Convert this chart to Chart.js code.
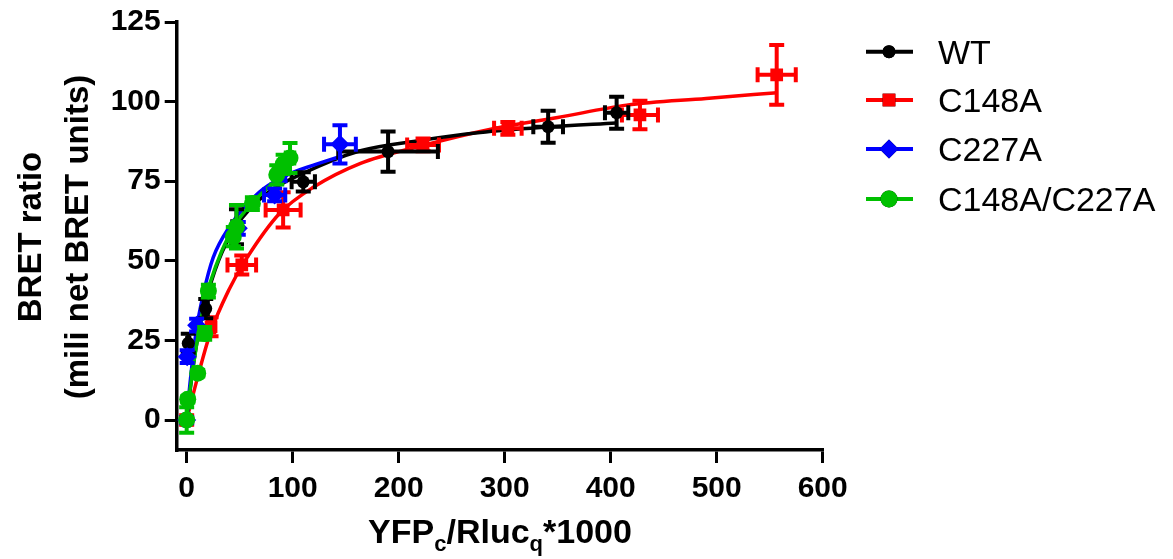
<!DOCTYPE html>
<html>
<head>
<meta charset="utf-8">
<script src="https://cdn.jsdelivr.net/npm/chart.js@4.4.1/dist/chart.umd.min.js"></script>
<style>
  html, body { margin: 0; padding: 0; background: #fff; }
  #wrap { width: 1173px; height: 559px; position: relative; }
</style>
</head>
<body>
<div id="wrap"><canvas id="c" width="1173" height="559"></canvas></div>
<script>
// ---------- data ----------
const xTicks = [0, 100, 200, 300, 400, 500, 600];
const yTicks = [0, 25, 50, 75, 100, 125];
const seriesNames = ['WT', 'C148A', 'C227A', 'C148A/C227A'];
const xTitleParts = ['YFP', 'c', '/Rluc', 'q', '*1000'];
const yTitleLines = ['BRET ratio', '(mili net BRET units)'];

// WT
const wtX    = [1.5, 18, 47, 110, 190, 341, 405.6];
const wtY    = [24.1, 35, 60.7, 74.8, 84.3, 92.1, 96.5];
const wtXErr = [1, 2, 4, 11, 47, 14, 11];
const wtYErr = [3, 3, 5.5, 3, 6.3, 5, 5];
// C148A
const c148X    = [0, 23, 52, 91, 223, 303, 427.6, 556.6];
const c148Y    = [0, 29.3, 48.7, 66, 86.4, 91.6, 95.8, 108.4];
const c148XErr = [0, 3, 13.5, 16.5, 15, 13, 17, 18];
const c148YErr = [1.5, 3, 3, 5.5, 2, 2, 4.5, 9.4];
// C227A
const c227X    = [0, 0.5, 9.4, 48.7, 83, 88, 144.6];
const c227Y    = [0, 19.9, 29.8, 60.2, 70.7, 77, 86.6];
const c227XErr = [2, 1, 2, 3, 10, 5, 15];
const c227YErr = [1, 2, 2, 2, 2, 2, 6];
// C148A/C227A
const dblX    = [0, 1, 10.4, 17, 20.5, 44, 47, 62, 85, 91, 97.5];
const dblY    = [0, 6.5, 14.7, 27.2, 40.5, 57.6, 60.7, 68, 77, 80.3, 82.3];
const dblXErr = [0, 0, 0, 1, 1, 2, 2, 2, 3, 3, 4];
const dblYErr = [4, 1, 1, 2, 2, 3, 6.8, 2, 3, 3, 4.7];

// fitted curves
const wtFitX  = [0, 5, 10, 17, 30, 47, 75, 110, 163, 220, 277, 340, 405];
const wtFitY  = [0, 14, 25, 36, 50, 61, 71, 77.5, 84.5, 87.8, 90.3, 92, 93.3];
const c148FitX = [0, 10, 22, 40, 57, 88, 119, 164, 220, 289, 350, 415, 490, 557];
const c148FitY = [0, 13, 27, 41, 51, 65, 73, 80.6, 86, 91.5, 95, 98.9, 101, 102.8];
const c227FitX = [0, 3, 9, 16, 25, 41, 55, 72, 95, 119, 147];
const c227FitY = [0, 11, 28, 40, 51, 61, 67, 72.5, 77, 80, 83];
const dblFitX  = [0, 3, 10, 17, 22, 33, 45, 60, 75, 88, 97];
const dblFitY  = [0, 9, 25, 37, 43, 53, 61, 67.5, 72.5, 76, 78.5];

// ---------- styling ----------
const FONT = '"Liberation Sans", Arial, Helvetica, sans-serif';
const colors = ['#000000', '#ff0000', '#0000ff', '#00c000'];
const pointStyles = ['circle', 'rect', 'rectRot', 'circle'];
const pointRadii = [6.5, 9, 9.5, 8.5];

function pts(xs, ys) { return xs.map((x, i) => ({ x: x, y: ys[i] })); }

const pointSets = [
  { x: wtX, y: wtY, xe: wtXErr, ye: wtYErr },
  { x: c148X, y: c148Y, xe: c148XErr, ye: c148YErr },
  { x: c227X, y: c227Y, xe: c227XErr, ye: c227YErr },
  { x: dblX, y: dblY, xe: dblXErr, ye: dblYErr }
];
const fitSets = [
  { x: wtFitX, y: wtFitY },
  { x: c148FitX, y: c148FitY },
  { x: c227FitX, y: c227FitY },
  { x: dblFitX, y: dblFitY }
];
const pointOrder = [2, 3, 1, 0];
const fitOrder = [6, 7, 5, 4];

const datasets = [];
pointSets.forEach((s, i) => {
  datasets.push({
    type: 'scatter',
    label: seriesNames[i],
    data: pts(s.x, s.y),
    showLine: false,
    pointStyle: pointStyles[i],
    pointRadius: pointRadii[i],
    pointBackgroundColor: colors[i],
    pointBorderColor: colors[i],
    pointBorderWidth: 0,
    errX: s.xe,
    errY: s.ye,
    isPoints: true,
    order: pointOrder[i]
  });
});
fitSets.forEach((s, i) => {
  datasets.push({
    type: 'line',
    label: seriesNames[i] + ' fit',
    data: pts(s.x, s.y),
    borderColor: colors[i],
    borderWidth: 3.5,
    pointRadius: 0,
    fill: false,
    cubicInterpolationMode: 'monotone',
    order: fitOrder[i]
  });
});

// error bars drawn through the chart scales
const errorBars = {
  id: 'errorBars',
  beforeDatasetDraw(chart, args) {
    const ds = chart.data.datasets[args.index];
    if (!ds.isPoints) return;
    const xs = chart.scales.x, ys = chart.scales.y;
    const ctx = chart.ctx;
    ctx.save();
    ctx.strokeStyle = ds.pointBackgroundColor;
    ctx.lineWidth = 4;
    ctx.lineCap = 'butt';
    const cap = 7.5;
    ds.data.forEach((p, i) => {
      const ex = ds.errX[i], ey = ds.errY[i];
      const px = xs.getPixelForValue(p.x), py = ys.getPixelForValue(p.y);
      if (ey > 0) {
        const y1 = ys.getPixelForValue(p.y + ey), y2 = ys.getPixelForValue(p.y - ey);
        ctx.beginPath();
        ctx.moveTo(px, y1); ctx.lineTo(px, y2);
        ctx.moveTo(px - cap, y1); ctx.lineTo(px + cap, y1);
        ctx.moveTo(px - cap, y2); ctx.lineTo(px + cap, y2);
        ctx.stroke();
      }
      if (ex > 0) {
        const x1 = xs.getPixelForValue(p.x - ex), x2 = xs.getPixelForValue(p.x + ex);
        ctx.beginPath();
        ctx.moveTo(x1, py); ctx.lineTo(x2, py);
        ctx.moveTo(x1, py - cap); ctx.lineTo(x1, py + cap);
        ctx.moveTo(x2, py - cap); ctx.lineTo(x2, py + cap);
        ctx.stroke();
      }
    });
    ctx.restore();
  }
};

// titles and legend
const decorations = {
  id: 'decorations',
  afterDraw(chart) {
    const ctx = chart.ctx;
    ctx.save();
    ctx.fillStyle = '#000';
    // x title with subscripts
    const big = 'bold 34px ' + FONT, small = 'bold 22px ' + FONT;
    let total = 0;
    const widths = xTitleParts.map((t, i) => {
      ctx.font = (i % 2 === 1) ? small : big;
      const w = ctx.measureText(t).width; total += w; return w;
    });
    let x = 500 - total / 2;
    const base = 543;
    ctx.textBaseline = 'alphabetic';
    ctx.textAlign = 'left';
    xTitleParts.forEach((t, i) => {
      const sub = i % 2 === 1;
      ctx.font = sub ? small : big;
      ctx.fillText(t, x, sub ? base + 8 : base);
      x += widths[i];
    });
    // y title (rotated, two lines)
    ctx.font = 'bold 33px ' + FONT;
    ctx.textAlign = 'center';
    ctx.textBaseline = 'middle';
    const yc = 237;
    [32, 79].forEach((lx, i) => {
      ctx.save();
      ctx.translate(lx, yc);
      ctx.rotate(-Math.PI / 2);
      ctx.fillText(yTitleLines[i], 0, 0);
      ctx.restore();
    });
    // legend
    const rows = [51.7, 100, 149, 199];
    ctx.textAlign = 'left';
    ctx.textBaseline = 'alphabetic';
    ctx.font = '34px ' + FONT;
    seriesNames.forEach((name, i) => {
      const y = rows[i];
      ctx.strokeStyle = colors[i];
      ctx.lineWidth = 4;
      ctx.beginPath();
      ctx.moveTo(866, y); ctx.lineTo(913, y);
      ctx.stroke();
      Chart.helpers.drawPoint(ctx, {
        pointStyle: pointStyles[i], radius: pointRadii[i], rotation: 0,
        borderWidth: 0
      }, 889, y);
      ctx.fillStyle = colors[i];
      ctx.fill();
      ctx.fillStyle = '#000';
      ctx.fillText(name, 938, y + 12);
    });
    ctx.restore();
  }
};

new Chart(document.getElementById('c'), {
  data: { datasets: datasets },
  options: {
    responsive: false,
    animation: false,
    layout: { padding: { left: 0, top: 22, right: 350.3, bottom: 0 } },
    plugins: { legend: { display: false }, tooltip: { enabled: false } },
    scales: {
      x: {
        type: 'linear', min: -9.4, max: 600,
        afterBuildTicks: s => { s.ticks = xTicks.map(v => ({ value: v })); },
        afterFit: s => { s.height = 109; },
        ticks: { color: '#000', font: { family: FONT, size: 30, weight: 'bold' }, padding: 8, maxRotation: 0, autoSkip: false },
        grid: { drawOnChartArea: false, drawTicks: true, tickLength: 13, color: '#000', lineWidth: 3 },
        border: { display: true, color: '#000', width: 3.5 },
        title: { display: false }
      },
      y: {
        type: 'linear', min: -9.4, max: 125,
        afterBuildTicks: s => { s.ticks = yTicks.map(v => ({ value: v })); },
        afterFit: s => { s.width = 176.7; },
        ticks: { color: '#000', font: { family: FONT, size: 30, weight: 'bold' }, padding: 4, autoSkip: false },
        grid: { drawOnChartArea: false, drawTicks: true, tickLength: 12, color: '#000', lineWidth: 3 },
        border: { display: true, color: '#000', width: 3.5 },
        title: { display: false }
      }
    }
  },
  plugins: [errorBars, decorations]
});
</script>
</body>
</html>
